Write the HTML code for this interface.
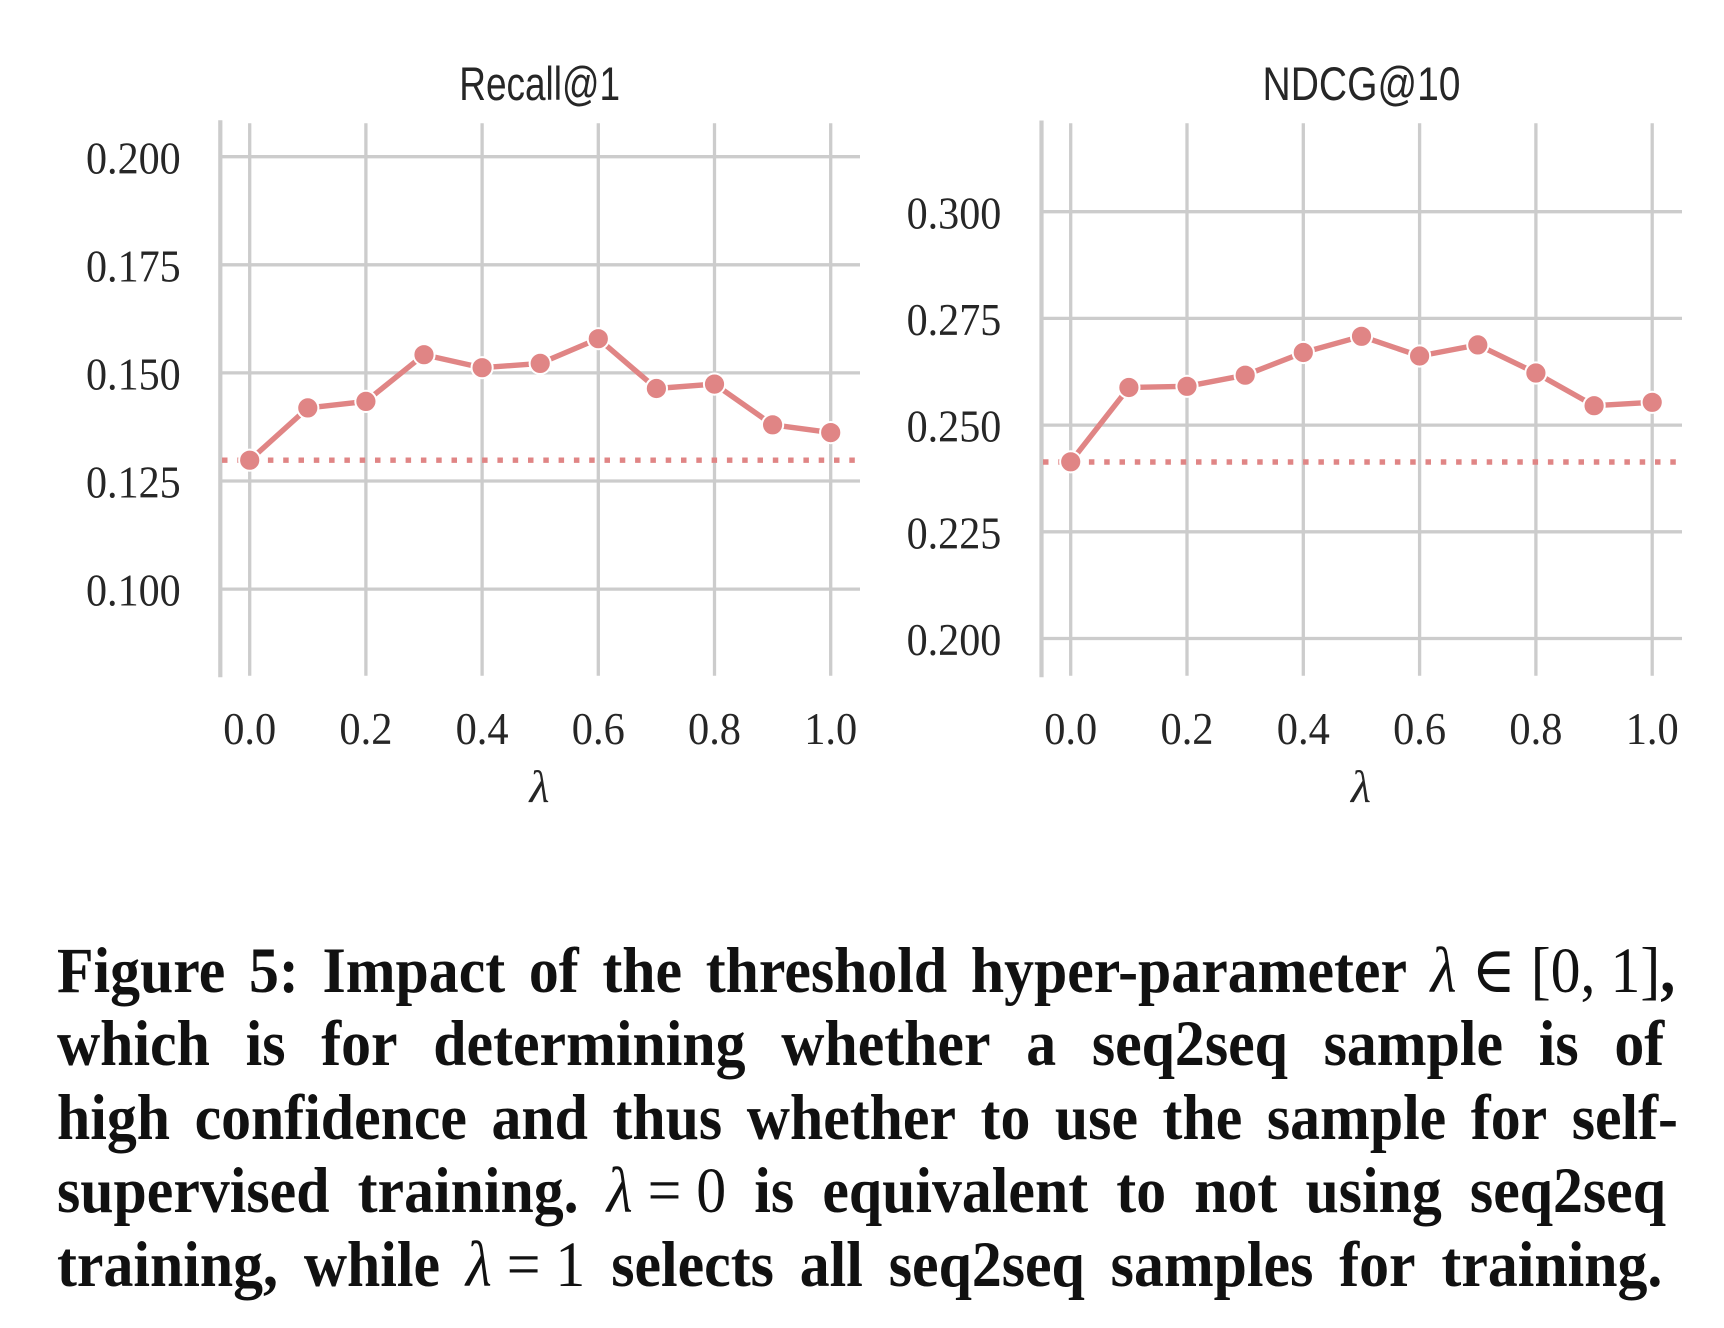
<!DOCTYPE html>
<html>
<head>
<meta charset="utf-8">
<style>
  html, body { margin: 0; padding: 0; background: #ffffff; }
  body { width: 1724px; height: 1328px; position: relative; overflow: hidden; }
  svg { position: absolute; left: 0; top: 0; }
  .cap {
    position: absolute;
    left: 57px;
    display: flex;
    justify-content: space-between;
    white-space: nowrap;
    font-family: "Liberation Serif", "DejaVu Serif", serif;
    font-weight: bold;
    font-size: 65px;
    line-height: 65px;
    height: 65px;
    color: #111111;
    transform: scaleX(0.92);
    transform-origin: 0 0;
  }
  .cap span { white-space: pre; }
  .m { font-weight: normal; }
  .mi { font-weight: normal; font-style: italic; }
</style>
</head>
<body>
<svg width="1724" height="1328" viewBox="0 0 1724 1328" xmlns="http://www.w3.org/2000/svg">
  <!-- ============ LEFT PLOT ============ -->
  <g stroke="#cccccc" stroke-width="3.3" fill="none">
    <line x1="222" y1="156.7" x2="860" y2="156.7"/>
    <line x1="222" y1="264.8" x2="860" y2="264.8"/>
    <line x1="222" y1="372.9" x2="860" y2="372.9"/>
    <line x1="222" y1="481.0" x2="860" y2="481.0"/>
    <line x1="222" y1="589.1" x2="860" y2="589.1"/>
    <line x1="249.7" y1="123.3" x2="249.7" y2="675.7"/>
    <line x1="365.9" y1="123.3" x2="365.9" y2="675.7"/>
    <line x1="482.1" y1="123.3" x2="482.1" y2="675.7"/>
    <line x1="598.3" y1="123.3" x2="598.3" y2="675.7"/>
    <line x1="714.5" y1="123.3" x2="714.5" y2="675.7"/>
    <line x1="830.7" y1="123.3" x2="830.7" y2="675.7"/>
  </g>
  <line x1="220.3" y1="120.3" x2="220.3" y2="677.3" stroke="#cccccc" stroke-width="4.2"/>

  <line x1="222" y1="460.2" x2="860" y2="460.2" stroke="#e08585" stroke-width="5.4" stroke-dasharray="5.5 9.8"/>

  <polyline fill="none" stroke="#e08585" stroke-width="5.4" stroke-linejoin="round"
    points="249.7,460.2 307.8,407.9 365.9,401.4 424.0,354.7 482.1,367.7 540.2,363.4 598.3,338.7 656.4,388.5 714.5,384.1 772.6,424.8 830.7,432.6"/>
  <g fill="#e08585" stroke="#ffffff" stroke-width="2">
    <circle cx="249.7" cy="460.2" r="10.6"/>
    <circle cx="307.8" cy="407.9" r="10.6"/>
    <circle cx="365.9" cy="401.4" r="10.6"/>
    <circle cx="424.0" cy="354.7" r="10.6"/>
    <circle cx="482.1" cy="367.7" r="10.6"/>
    <circle cx="540.2" cy="363.4" r="10.6"/>
    <circle cx="598.3" cy="338.7" r="10.6"/>
    <circle cx="656.4" cy="388.5" r="10.6"/>
    <circle cx="714.5" cy="384.1" r="10.6"/>
    <circle cx="772.6" cy="424.8" r="10.6"/>
    <circle cx="830.7" cy="432.6" r="10.6"/>
  </g>

  <text x="459.3" y="100" font-family="Liberation Sans, DejaVu Sans, sans-serif" font-size="47" fill="#262626" textLength="160.7" lengthAdjust="spacingAndGlyphs">Recall@1</text>

  <g font-family="Liberation Serif, DejaVu Serif, serif" font-size="45" fill="#262626" text-anchor="end">
    <text x="180.7" y="173.3" textLength="94.7" lengthAdjust="spacingAndGlyphs">0.200</text>
    <text x="180.7" y="281.4" textLength="94.7" lengthAdjust="spacingAndGlyphs">0.175</text>
    <text x="180.7" y="389.5" textLength="94.7" lengthAdjust="spacingAndGlyphs">0.150</text>
    <text x="180.7" y="497.6" textLength="94.7" lengthAdjust="spacingAndGlyphs">0.125</text>
    <text x="180.7" y="605.7" textLength="94.7" lengthAdjust="spacingAndGlyphs">0.100</text>
  </g>
  <g font-family="Liberation Serif, DejaVu Serif, serif" font-size="45" fill="#262626" text-anchor="middle">
    <text x="249.7" y="744" textLength="53" lengthAdjust="spacingAndGlyphs">0.0</text>
    <text x="365.9" y="744" textLength="53" lengthAdjust="spacingAndGlyphs">0.2</text>
    <text x="482.1" y="744" textLength="53" lengthAdjust="spacingAndGlyphs">0.4</text>
    <text x="598.3" y="744" textLength="53" lengthAdjust="spacingAndGlyphs">0.6</text>
    <text x="714.5" y="744" textLength="53" lengthAdjust="spacingAndGlyphs">0.8</text>
    <text x="830.7" y="744" textLength="53" lengthAdjust="spacingAndGlyphs">1.0</text>
  </g>
  <text x="539.5" y="802" font-family="Liberation Serif, DejaVu Serif, serif" font-style="italic" font-size="46" fill="#262626" text-anchor="middle">λ</text>

  <!-- ============ RIGHT PLOT ============ -->
  <g stroke="#cccccc" stroke-width="3.3" fill="none">
    <line x1="1043" y1="211.7" x2="1682" y2="211.7"/>
    <line x1="1043" y1="318.4" x2="1682" y2="318.4"/>
    <line x1="1043" y1="425.1" x2="1682" y2="425.1"/>
    <line x1="1043" y1="531.8" x2="1682" y2="531.8"/>
    <line x1="1043" y1="638.5" x2="1682" y2="638.5"/>
    <line x1="1070.7" y1="123.3" x2="1070.7" y2="675.7"/>
    <line x1="1187.0" y1="123.3" x2="1187.0" y2="675.7"/>
    <line x1="1303.3" y1="123.3" x2="1303.3" y2="675.7"/>
    <line x1="1419.6" y1="123.3" x2="1419.6" y2="675.7"/>
    <line x1="1535.9" y1="123.3" x2="1535.9" y2="675.7"/>
    <line x1="1652.2" y1="123.3" x2="1652.2" y2="675.7"/>
  </g>
  <line x1="1041.5" y1="120.5" x2="1041.5" y2="677.3" stroke="#cccccc" stroke-width="4.2"/>

  <line x1="1043" y1="462" x2="1682" y2="462" stroke="#e08585" stroke-width="5.4" stroke-dasharray="5.5 9.8"/>

  <polyline fill="none" stroke="#e08585" stroke-width="5.4" stroke-linejoin="round"
    points="1070.7,461.8 1128.9,387.5 1187.0,386.3 1245.2,375.2 1303.3,352.5 1361.5,336.3 1419.6,356.0 1477.8,344.9 1535.9,373.0 1594.1,405.7 1652.2,402.3"/>
  <g fill="#e08585" stroke="#ffffff" stroke-width="2">
    <circle cx="1070.7" cy="461.8" r="10.6"/>
    <circle cx="1128.9" cy="387.5" r="10.6"/>
    <circle cx="1187.0" cy="386.3" r="10.6"/>
    <circle cx="1245.2" cy="375.2" r="10.6"/>
    <circle cx="1303.3" cy="352.5" r="10.6"/>
    <circle cx="1361.5" cy="336.3" r="10.6"/>
    <circle cx="1419.6" cy="356.0" r="10.6"/>
    <circle cx="1477.8" cy="344.9" r="10.6"/>
    <circle cx="1535.9" cy="373.0" r="10.6"/>
    <circle cx="1594.1" cy="405.7" r="10.6"/>
    <circle cx="1652.2" cy="402.3" r="10.6"/>
  </g>

  <text x="1262.5" y="100" font-family="Liberation Sans, DejaVu Sans, sans-serif" font-size="47" fill="#262626" textLength="198" lengthAdjust="spacingAndGlyphs">NDCG@10</text>

  <g font-family="Liberation Serif, DejaVu Serif, serif" font-size="45" fill="#262626" text-anchor="end">
    <text x="1001.3" y="228.3" textLength="94.7" lengthAdjust="spacingAndGlyphs">0.300</text>
    <text x="1001.3" y="335.0" textLength="94.7" lengthAdjust="spacingAndGlyphs">0.275</text>
    <text x="1001.3" y="441.7" textLength="94.7" lengthAdjust="spacingAndGlyphs">0.250</text>
    <text x="1001.3" y="548.4" textLength="94.7" lengthAdjust="spacingAndGlyphs">0.225</text>
    <text x="1001.3" y="655.1" textLength="94.7" lengthAdjust="spacingAndGlyphs">0.200</text>
  </g>
  <g font-family="Liberation Serif, DejaVu Serif, serif" font-size="45" fill="#262626" text-anchor="middle">
    <text x="1070.7" y="744" textLength="53" lengthAdjust="spacingAndGlyphs">0.0</text>
    <text x="1187.0" y="744" textLength="53" lengthAdjust="spacingAndGlyphs">0.2</text>
    <text x="1303.3" y="744" textLength="53" lengthAdjust="spacingAndGlyphs">0.4</text>
    <text x="1419.6" y="744" textLength="53" lengthAdjust="spacingAndGlyphs">0.6</text>
    <text x="1535.9" y="744" textLength="53" lengthAdjust="spacingAndGlyphs">0.8</text>
    <text x="1652.2" y="744" textLength="53" lengthAdjust="spacingAndGlyphs">1.0</text>
  </g>
  <text x="1361" y="802" font-family="Liberation Serif, DejaVu Serif, serif" font-style="italic" font-size="46" fill="#262626" text-anchor="middle">λ</text>
</svg>

<!-- Caption lines: baselines ~993, 1066.5, 1140, 1213.5, 1287 ; widths divided by 0.92 -->
<div class="cap" style="top:938.6px; width:1759px;">
  <span>Figure</span><span>5:</span><span>Impact</span><span>of</span><span>the</span><span>threshold</span><span>hyper-parameter</span><span><span class="mi">λ</span> <span class="m">∈ [0, 1]</span>,</span>
</div>
<div class="cap" style="top:1012.1px; width:1747px;">
  <span>which</span><span>is</span><span>for</span><span>determining</span><span>whether</span><span>a</span><span>seq2seq</span><span>sample</span><span>is</span><span>of</span>
</div>
<div class="cap" style="top:1085.6px; width:1762px;">
  <span>high</span><span>confidence</span><span>and</span><span>thus</span><span>whether</span><span>to</span><span>use</span><span>the</span><span>sample</span><span>for</span><span>self-</span>
</div>
<div class="cap" style="top:1159.1px; width:1749px;">
  <span>supervised</span><span>training.</span><span><span class="mi">λ</span><span class="m"> = 0</span></span><span>is</span><span>equivalent</span><span>to</span><span>not</span><span>using</span><span>seq2seq</span>
</div>
<div class="cap" style="top:1232.6px; width:1745px;">
  <span>training,</span><span>while</span><span><span class="mi">λ</span><span class="m"> = 1</span></span><span>selects</span><span>all</span><span>seq2seq</span><span>samples</span><span>for</span><span>training.</span>
</div>
</body>
</html>
